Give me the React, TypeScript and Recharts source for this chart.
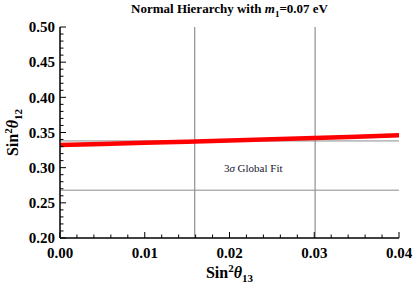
import {
  LineChart,
  Line,
  XAxis,
  YAxis,
  ReferenceLine,
  ReferenceDot,
} from "recharts";

// sin^2 theta13 vs sin^2 theta12
const sin2Theta13 = [0, 0.005, 0.01, 0.015, 0.02, 0.025, 0.03, 0.035, 0.04];
const sin2Theta12 = [0.3322, 0.3338, 0.3354, 0.337, 0.3386, 0.3404, 0.3422, 0.3441, 0.346];

// 3 sigma global fit bounds
const fitTheta13 = [0.0159, 0.0301];
const fitTheta12 = [0.338, 0.268];

const xTicks = [
  0, 0.002, 0.004, 0.006, 0.008, 0.01, 0.012, 0.014, 0.016, 0.018, 0.02,
  0.022, 0.024, 0.026, 0.028, 0.03, 0.032, 0.034, 0.036, 0.038, 0.04,
];
const xMajor = [0, 0.01, 0.02, 0.03, 0.04];
const yTicks = [
  0.2, 0.21, 0.22, 0.23, 0.24, 0.25, 0.26, 0.27, 0.28, 0.29, 0.3, 0.31, 0.32,
  0.33, 0.34, 0.35, 0.36, 0.37, 0.38, 0.39, 0.4, 0.41, 0.42, 0.43, 0.44, 0.45,
  0.46, 0.47, 0.48, 0.49, 0.5,
];
const yMajor = [0.2, 0.25, 0.3, 0.35, 0.4, 0.45, 0.5];

const data = sin2Theta13.map((x, i) => ({ x, y: sin2Theta12[i] }));

const serif = "'Liberation Serif', 'Times New Roman', serif";

const isIn = (v: number, arr: number[]) => arr.some((a) => Math.abs(a - v) < 1e-9);

const BottomTick = ({ x, y, payload }: any) => {
  const major = isIn(payload.value, xMajor);
  return (
    <g>
      <line x1={x} y1={y} x2={x} y2={y - (major ? 6 : 3.5)} stroke="#000" />
      {major && (
        <text x={x} y={y + 20} textAnchor="middle" fontFamily={serif} fontWeight="bold" fontSize={15} fill="#000">
          {payload.value.toFixed(2)}
        </text>
      )}
    </g>
  );
};

const TopTick = ({ x, y, payload }: any) => {
  const major = isIn(payload.value, xMajor);
  return <line x1={x} y1={y} x2={x} y2={y + (major ? 6 : 3.5)} stroke="#000" />;
};

const LeftTick = ({ x, y, payload }: any) => {
  const major = isIn(payload.value, yMajor);
  return (
    <g>
      <line x1={x} y1={y} x2={x + (major ? 6 : 3.5)} y2={y} stroke="#000" />
      {major && (
        <text x={x - 5} y={y} dy="0.35em" textAnchor="end" fontFamily={serif} fontWeight="bold" fontSize={15} fill="#000">
          {payload.value.toFixed(2)}
        </text>
      )}
    </g>
  );
};

const RightTick = ({ x, y, payload }: any) => {
  const major = isIn(payload.value, yMajor);
  return <line x1={x} y1={y} x2={x - (major ? 6 : 3.5)} y2={y} stroke="#000" />;
};

const XLabel = ({ viewBox }: any) => {
  const cx = viewBox.x + viewBox.width / 2;
  return (
    <text x={cx} y={viewBox.y + 40} textAnchor="middle" fontFamily={serif} fontWeight="bold" fontSize={16} fill="#000">
      Sin<tspan dy={-6} fontSize={11}>2</tspan>
      <tspan dy={6} fontStyle="italic">θ</tspan>
      <tspan dy={4} fontSize={11}>13</tspan>
    </text>
  );
};

const YLabel = ({ viewBox }: any) => {
  const cy = viewBox.y + viewBox.height / 2;
  const x = 18;
  return (
    <text x={x} y={cy} transform={`rotate(-90 ${x} ${cy})`} textAnchor="middle" fontFamily={serif} fontWeight="bold" fontSize={16} fill="#000">
      Sin<tspan dy={-6} fontSize={11}>2</tspan>
      <tspan dy={6} fontStyle="italic">θ</tspan>
      <tspan dy={4} fontSize={11}>12</tspan>
    </text>
  );
};

const FitLabel = ({ viewBox }: any) => {
  const cx = viewBox.x + viewBox.width / 2;
  const cy = viewBox.y + viewBox.height / 2;
  return (
    <text x={cx} y={cy} dy="0.35em" textAnchor="middle" fontFamily={serif} fontSize={11} fill="#151530">
      3<tspan fontStyle="italic">σ</tspan>  Global Fit
    </text>
  );
};

export default function App() {
  return (
    <div style={{ position: "absolute", left: 0, top: 0, background: "#fff" }}>
      <div
        style={{
          position: "absolute",
          left: 0,
          top: 0,
          width: 459,
          textAlign: "center",
          fontFamily: serif,
          fontWeight: "bold",
          fontSize: 13,
          lineHeight: "18px",
          zIndex: 1,
        }}
      >
        Normal Hierarchy with <i>m</i>
        <sub style={{ fontSize: 9 }}>1</sub>=0.07 eV
      </div>
      <LineChart width={415} height={289} data={data} margin={{ top: 27, right: 16, bottom: 0, left: 0 }}>
        <XAxis
          dataKey="x"
          type="number"
          domain={[0, 0.04]}
          ticks={xTicks}
          interval={0}
          tickSize={0}
          tickMargin={0}
          tick={<BottomTick />}
          height={51}
          stroke="#000"
          strokeWidth={1.5}
          label={<XLabel />}
        />
        <XAxis
          xAxisId="top"
          orientation="top"
          dataKey="x"
          type="number"
          domain={[0, 0.04]}
          ticks={xTicks}
          interval={0}
          tickSize={0}
          tickMargin={0}
          tick={<TopTick />}
          height={0}
          stroke="#000"
          strokeWidth={1.5}
        />
        <YAxis
          type="number"
          domain={[0.2, 0.5]}
          ticks={yTicks}
          interval={0}
          tickSize={0}
          tickMargin={0}
          tick={<LeftTick />}
          width={60}
          stroke="#000"
          strokeWidth={1.5}
          label={<YLabel />}
        />
        <YAxis
          yAxisId="right"
          orientation="right"
          type="number"
          domain={[0.2, 0.5]}
          ticks={yTicks}
          interval={0}
          tickSize={0}
          tickMargin={0}
          tick={<RightTick />}
          width={0}
          stroke="#000"
          strokeWidth={1.5}
        />
        {fitTheta13.map((v) => (
          <ReferenceLine key={"x" + v} x={v} stroke="#7a7a7a" strokeWidth={1} />
        ))}
        {fitTheta12.map((v) => (
          <ReferenceLine key={"y" + v} y={v} stroke="#8c8c8c" strokeWidth={1} />
        ))}
        <ReferenceDot x={0.0228} y={0.3} r={0} stroke="none" label={<FitLabel />} />
        <Line
          type="linear"
          dataKey="y"
          stroke="#ff0000"
          strokeWidth={4.5}
          dot={false}
          isAnimationActive={false}
        />
      </LineChart>
    </div>
  );
}
